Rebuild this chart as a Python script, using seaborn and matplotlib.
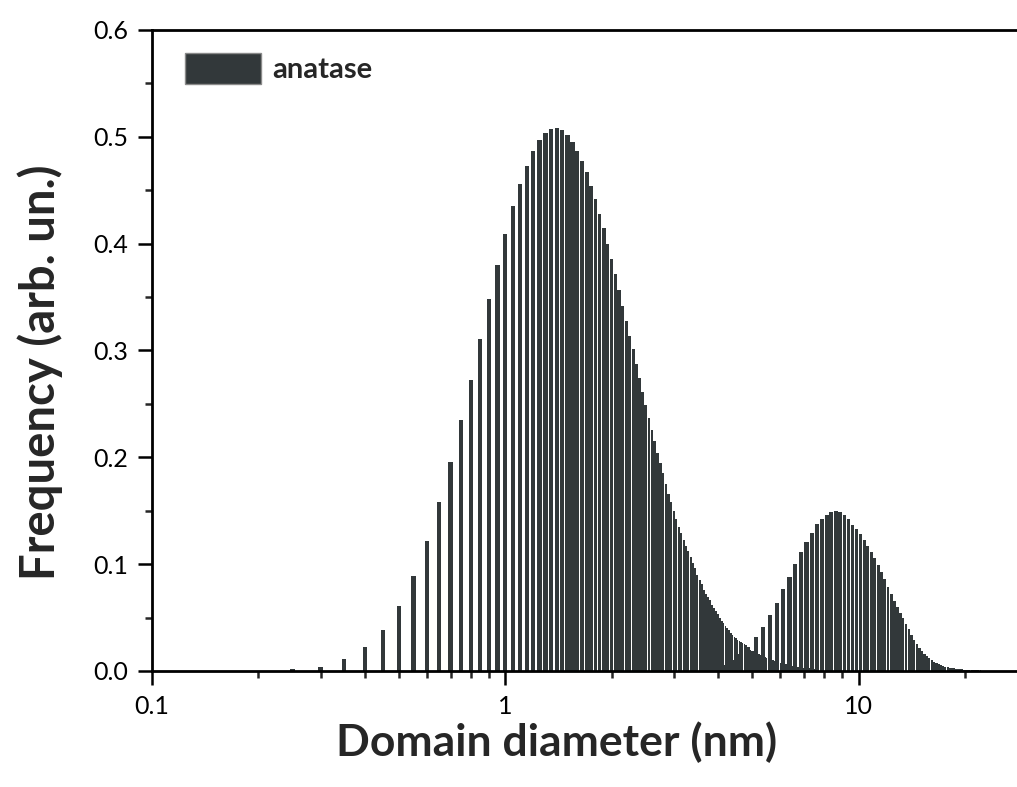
import numpy as np
import pandas as pd
import seaborn as sns
import matplotlib.pyplot as plt
from matplotlib.patches import Patch
from matplotlib.ticker import LogLocator, MultipleLocator, NullFormatter

# small domains: bars every 0.05 nm starting at 0.25 nm
small_start, small_step = 0.25, 0.05
small_freq = [
    0.002, 0.004, 0.011, 0.022, 0.038, 0.061, 0.089, 0.122, 0.158, 0.196,
    0.235, 0.272, 0.311, 0.348, 0.380, 0.409, 0.435, 0.456, 0.473, 0.487,
    0.497, 0.504, 0.507, 0.508, 0.506, 0.502, 0.495, 0.487, 0.477, 0.467,
    0.454, 0.442, 0.428, 0.415, 0.400, 0.386, 0.372, 0.357, 0.342, 0.328,
    0.314, 0.301, 0.287, 0.274, 0.261, 0.249, 0.237, 0.226, 0.215, 0.204,
    0.195, 0.185, 0.175, 0.166, 0.158, 0.150, 0.142, 0.135, 0.129, 0.123,
    0.117, 0.112, 0.107, 0.101, 0.096, 0.090, 0.085, 0.081, 0.076, 0.072,
    0.069, 0.066, 0.062, 0.059, 0.056, 0.053, 0.050, 0.047, 0.045, 0.042,
    0.040, 0.038, 0.036, 0.034, 0.032, 0.031, 0.029, 0.028, 0.027, 0.026,
    0.025, 0.024, 0.022, 0.021, 0.020, 0.019, 0.0185, 0.0177, 0.0170, 0.0163,
    0.0156, 0.0149, 0.0143, 0.0137, 0.0131, 0.0126, 0.0121, 0.0116, 0.0111, 0.0106,
    0.0102, 0.0095, 0.0090, 0.0086, 0.0082, 0.0078, 0.0075, 0.0072, 0.0069, 0.0066,
    0.0063, 0.0060, 0.0057, 0.0055, 0.0052, 0.0050, 0.0048, 0.0046, 0.0044, 0.0042,
    0.0040, 0.0038, 0.0036, 0.0034, 0.0033, 0.0031, 0.0030, 0.0028, 0.0027, 0.0026,
    0.0025, 0.0024, 0.0023, 0.0022, 0.0021, 0.0020,
]

# large domains: bars every 0.25 nm starting at 3.375 nm
large_start, large_step = 3.375, 0.25
large_freq = [
    0.0003, 0.0012, 0.0035, 0.0060, 0.0100, 0.0159, 0.0228, 0.0316, 0.0415, 0.0524,
    0.0640, 0.0765, 0.0883, 0.1002, 0.1111, 0.1210, 0.1295, 0.1373, 0.1420, 0.1464,
    0.1492, 0.1501, 0.1492, 0.1464, 0.1420, 0.1368, 0.1326, 0.1278, 0.1225, 0.1170,
    0.1112, 0.1055, 0.0990, 0.0927, 0.0862, 0.0790, 0.0720, 0.0655, 0.0600, 0.0547,
    0.0492, 0.0440, 0.0390, 0.0336, 0.0292, 0.0253, 0.0217, 0.0184, 0.0160, 0.0136,
    0.0118, 0.0101, 0.0085, 0.0073, 0.0063, 0.0052, 0.0046, 0.0040, 0.0035, 0.0031,
    0.0027, 0.0024, 0.0021, 0.0019, 0.0017, 0.0015, 0.0013, 0.0012, 0.0010, 0.0009,
    0.0008, 0.0007, 0.0007, 0.0006, 0.0005, 0.0005, 0.0004, 0.0004, 0.0003, 0.0003,
    0.0003, 0.0002, 0.0002, 0.0002, 0.0002, 0.0001, 0.0001, 0.0001, 0.0001, 0.0001,
]

small_d = np.round(small_start + small_step * np.arange(len(small_freq)), 3)
large_d = np.round(large_start + large_step * np.arange(len(large_freq)), 3)

bar_color = '#32383a'
px_per_decade = 353.2
bar_px = 4.3


def bar_edges(d):
    # one narrow bin per bar (log10 units), empty bins in between make the gaps
    logd = np.log10(d)
    gaps = np.diff(logd)
    near = np.minimum(np.r_[gaps[0], gaps], np.r_[gaps, gaps[-1]])
    half = np.minimum(bar_px / px_per_decade, 0.9 * near) / 2
    return list(np.column_stack([logd - half, logd + half]).ravel())


sns.set_style('ticks')
plt.rcParams['font.family'] = ['Lato', 'DejaVu Sans']

fig = plt.figure(figsize=(10.17, 7.87), dpi=100)
ax = fig.add_axes([0.1495, 0.1474, 0.8505, 0.8145])

small = pd.DataFrame({'d': small_d, 'freq': small_freq})
large = pd.DataFrame({'d': large_d, 'freq': large_freq})

sns.histplot(data=small, x='d', weights='freq', bins=bar_edges(small_d), log_scale=True,
             color=bar_color, alpha=1, linewidth=0, edgecolor='none', ax=ax)
sns.histplot(data=large, x='d', weights='freq', bins=bar_edges(large_d), log_scale=True,
             color=bar_color, alpha=1, linewidth=0, edgecolor='none', ax=ax)

ax.set_xlim(0.1, 28.1)
ax.set_ylim(0, 0.6)

ax.set_xticks([0.1, 1, 10])
ax.set_xticklabels(['0.1', '1', '10'])
ax.xaxis.set_minor_locator(LogLocator(base=10, subs=range(2, 10)))
ax.xaxis.set_minor_formatter(NullFormatter())
yt = np.arange(0, 0.61, 0.1)
ax.set_yticks(yt)
ax.set_yticklabels([f'{v:.1f}' for v in yt])
ax.yaxis.set_minor_locator(MultipleLocator(0.05))

ax.tick_params(which='major', direction='out', length=10, width=1.8, labelsize=18, pad=7, colors='black')
ax.tick_params(which='minor', direction='out', length=5, width=1.8)

for s in ['left', 'bottom', 'top']:
    ax.spines[s].set_linewidth(2)
    ax.spines[s].set_color('black')
ax.spines['right'].set_visible(False)

ax.set_xlabel('Domain diameter (nm)', fontsize=32, fontweight='bold', va='center')
ax.set_ylabel('Frequency (arb. un.)', fontsize=34, fontweight='bold', va='center')
ax.xaxis.set_label_coords(0.468, -0.111)
ax.yaxis.set_label_coords(-0.129, 0.466)

handle = Patch(facecolor=bar_color, edgecolor='#8a8a8a', linewidth=1.0)
ax.legend([handle], ['anatase'], loc='upper left',
          bbox_to_anchor=(33 / 865, 1 - 23 / 641), frameon=False,
          borderpad=0, borderaxespad=0, handlelength=2.6, handleheight=1.27,
          handletextpad=0.38, prop={'weight': 'bold', 'size': 21})

fig.savefig('out.png', dpi=100)
